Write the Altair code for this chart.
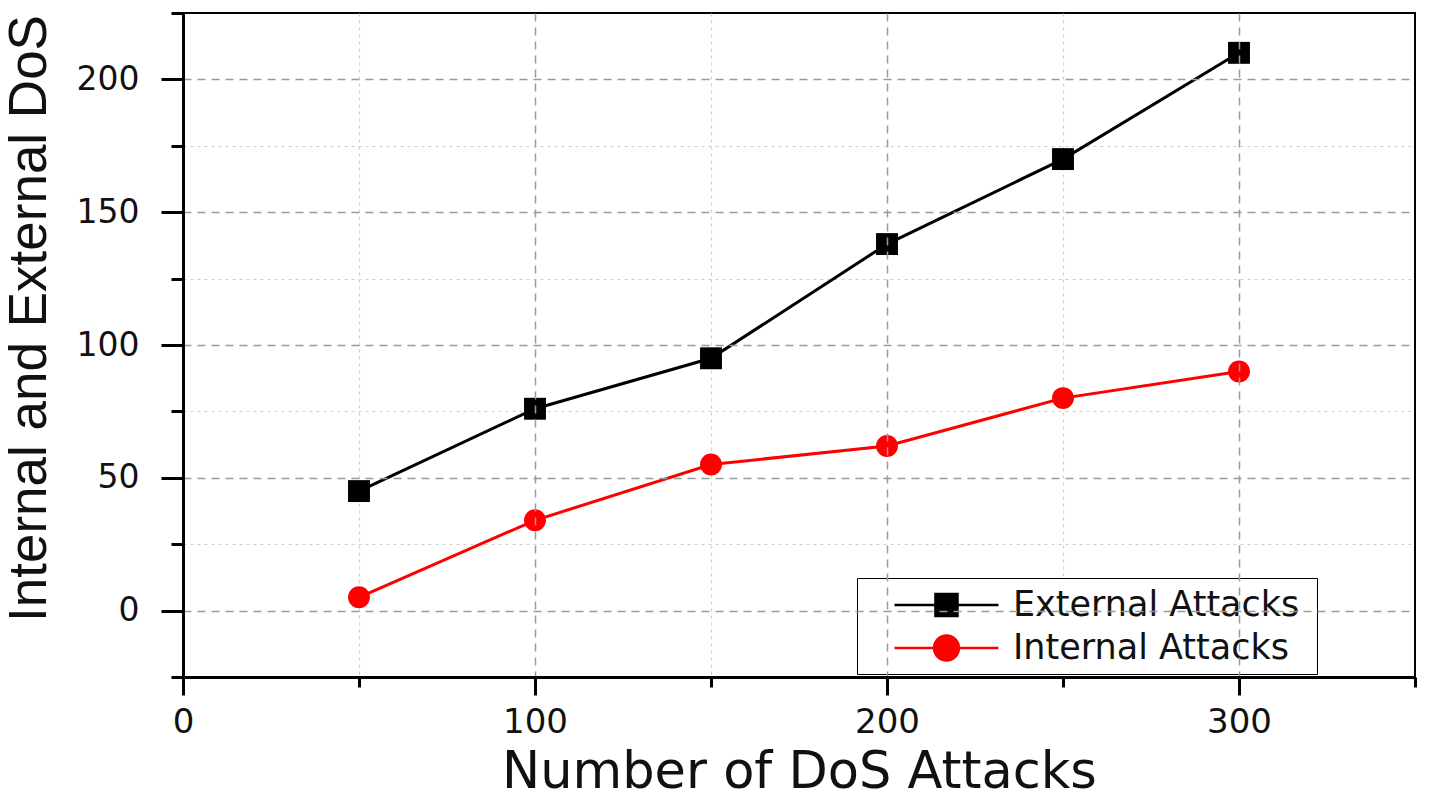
import altair as alt
import pandas as pd

attacks = [50, 100, 150, 200, 250, 300]
external = [45, 76, 95, 138, 170, 210]
internal = [5, 34, 55, 62, 80, 90]
series_names = ["External Attacks", "Internal Attacks"]
series_colors = ["#000000", "#ff0000"]
series_markers = ["square", "circle"]
x_major = [0, 100, 200, 300]
x_minor = [50, 150, 250, 350]
y_major = [0, 50, 100, 150, 200]
y_minor = [-25, 25, 75, 125, 175, 225]

rows = []
for a, e, i in zip(attacks, external, internal):
    rows.append({"attacks": a, "value": e, "series": series_names[0]})
    rows.append({"attacks": a, "value": i, "series": series_names[1]})
df = pd.DataFrame(rows)

FONT = "DejaVu Sans"
xscale = alt.Scale(domain=[0, 350], nice=False, zero=False)
yscale = alt.Scale(domain=[-25, 225], nice=False, zero=False)
cscale = alt.Scale(domain=series_names, range=series_colors)

# legend glyphs: a line with the series marker in its middle
sq_path = "M0.6,0H6.54M2.94,-0.63H4.2V0.63H2.94Z"
circ_path = "M0.6,0H6.54M2.86,0A0.71,0.71,0,1,1,4.28,0A0.71,0.71,0,1,1,2.86,0Z"
shape_scale = alt.Scale(domain=series_names, range=[sq_path, circ_path])

hide_edge_x = {"condition": {"test": "datum.value <= 0 || datum.value >= 350", "value": 0}, "value": 1}
hide_edge_y = {"condition": {"test": "datum.value <= -25 || datum.value >= 225", "value": 0}, "value": 1}

x_major_axis = alt.Axis(
    orient="bottom",
    values=x_major, format="d", title="Number of DoS Attacks",
    titleFont=FONT, titleFontSize=51, titleFontWeight="normal", titleColor="#111",
    titlePadding=8,
    labelFont=FONT, labelFontSize=34, labelColor="#111", labelPadding=10, labelFlush=False,
    tickSize=18, tickWidth=3, tickColor="#000",
    domain=True, domainWidth=3, domainColor="#000",
    grid=True, gridColor="#9a9a9a", gridDash=[8, 6], gridWidth=1.5,
    gridOpacity=hide_edge_x, zindex=1,
)
y_major_axis = alt.Axis(
    orient="left",
    values=y_major, format="d", title="Internal and External DoS",
    titleFont="Liberation Sans", titleFontSize=53, titleFontWeight="normal", titleColor="#111",
    titlePadding=20, titleY=305,
    labelFont=FONT, labelFontSize=33, labelColor="#111", labelPadding=22, labelFlush=False,
    tickSize=22, tickWidth=3, tickColor="#000",
    domain=True, domainWidth=3, domainColor="#000",
    grid=True, gridColor="#9a9a9a", gridDash=[8, 6], gridWidth=1.5,
    gridOpacity=hide_edge_y, zindex=1,
)
x_minor_axis = alt.Axis(
    orient="bottom",
    values=x_minor, labels=False, title=None, domain=False,
    tickSize=10, tickWidth=3, tickColor="#000",
    grid=True, gridColor="#cfcfcf", gridDash=[3, 4], gridWidth=1.2,
    gridOpacity=hide_edge_x,
)
y_minor_axis = alt.Axis(
    orient="left",
    values=y_minor, labels=False, title=None, domain=False,
    tickSize=12, tickWidth=3, tickColor="#000",
    grid=True, gridColor="#cfcfcf", gridDash=[3, 4], gridWidth=1.2,
    gridOpacity=hide_edge_y,
)

base = alt.Chart(df)
X_plain = alt.X("attacks:Q", scale=xscale, axis=None)
Y_plain = alt.Y("value:Q", scale=yscale, axis=None)

minor = base.mark_line(opacity=0).encode(
    x=alt.X("attacks:Q", scale=xscale, axis=x_minor_axis),
    y=alt.Y("value:Q", scale=yscale, axis=y_minor_axis),
    detail="series:N",
)

major = base.mark_line(opacity=0).encode(
    x=alt.X("attacks:Q", scale=xscale, axis=x_major_axis),
    y=alt.Y("value:Q", scale=yscale, axis=y_major_axis),
    detail="series:N",
)

series_layers = []
for name, col, marker in zip(series_names, series_colors, series_markers):
    sub = base.transform_filter(alt.datum.series == name)
    series_layers.append(
        sub.mark_line(strokeWidth=3, color=col).encode(x=X_plain, y=Y_plain)
    )
    series_layers.append(
        sub.mark_point(shape=marker, filled=True, size=480, opacity=1, color=col).encode(
            x=X_plain, y=Y_plain
        )
    )

leg = alt.Legend(
    title="\u2003", titleOrient="right", titleFont=FONT, titleFontSize=64, titlePadding=10,
    orient="none", legendX=674, legendY=565,
    labelFont=FONT, labelFontSize=35, labelColor="#111", labelOffset=110, labelLimit=0,
    symbolSize=1225, symbolStrokeWidth=2.5, symbolOpacity=1,
    strokeColor="#000", fillColor="#fff", padding=8, rowPadding=6,
)

# legend-only layer: no marks drawn, the explicit scale domains keep the entries
legend_layer = base.transform_filter("false").mark_point(filled=True, strokeWidth=2.5).encode(
    x=X_plain,
    y=Y_plain,
    fill=alt.Fill("series:N", scale=cscale, legend=leg),
    stroke=alt.Stroke("series:N", scale=cscale, legend=leg),
    shape=alt.Shape("series:N", scale=shape_scale, legend=leg),
)

chart = alt.layer(minor, major, *series_layers, legend_layer).resolve_axis(
    x="independent", y="independent"
).properties(
    width=1232, height=664,
    background="white",
    autosize=alt.AutoSizeParams(type="none"),
    padding={"left": 175, "top": 5, "right": 6, "bottom": 115},
).configure_view(
    stroke="#000", strokeWidth=2
)

chart.save("out.html", embed_options={"renderer": "svg", "actions": False})
